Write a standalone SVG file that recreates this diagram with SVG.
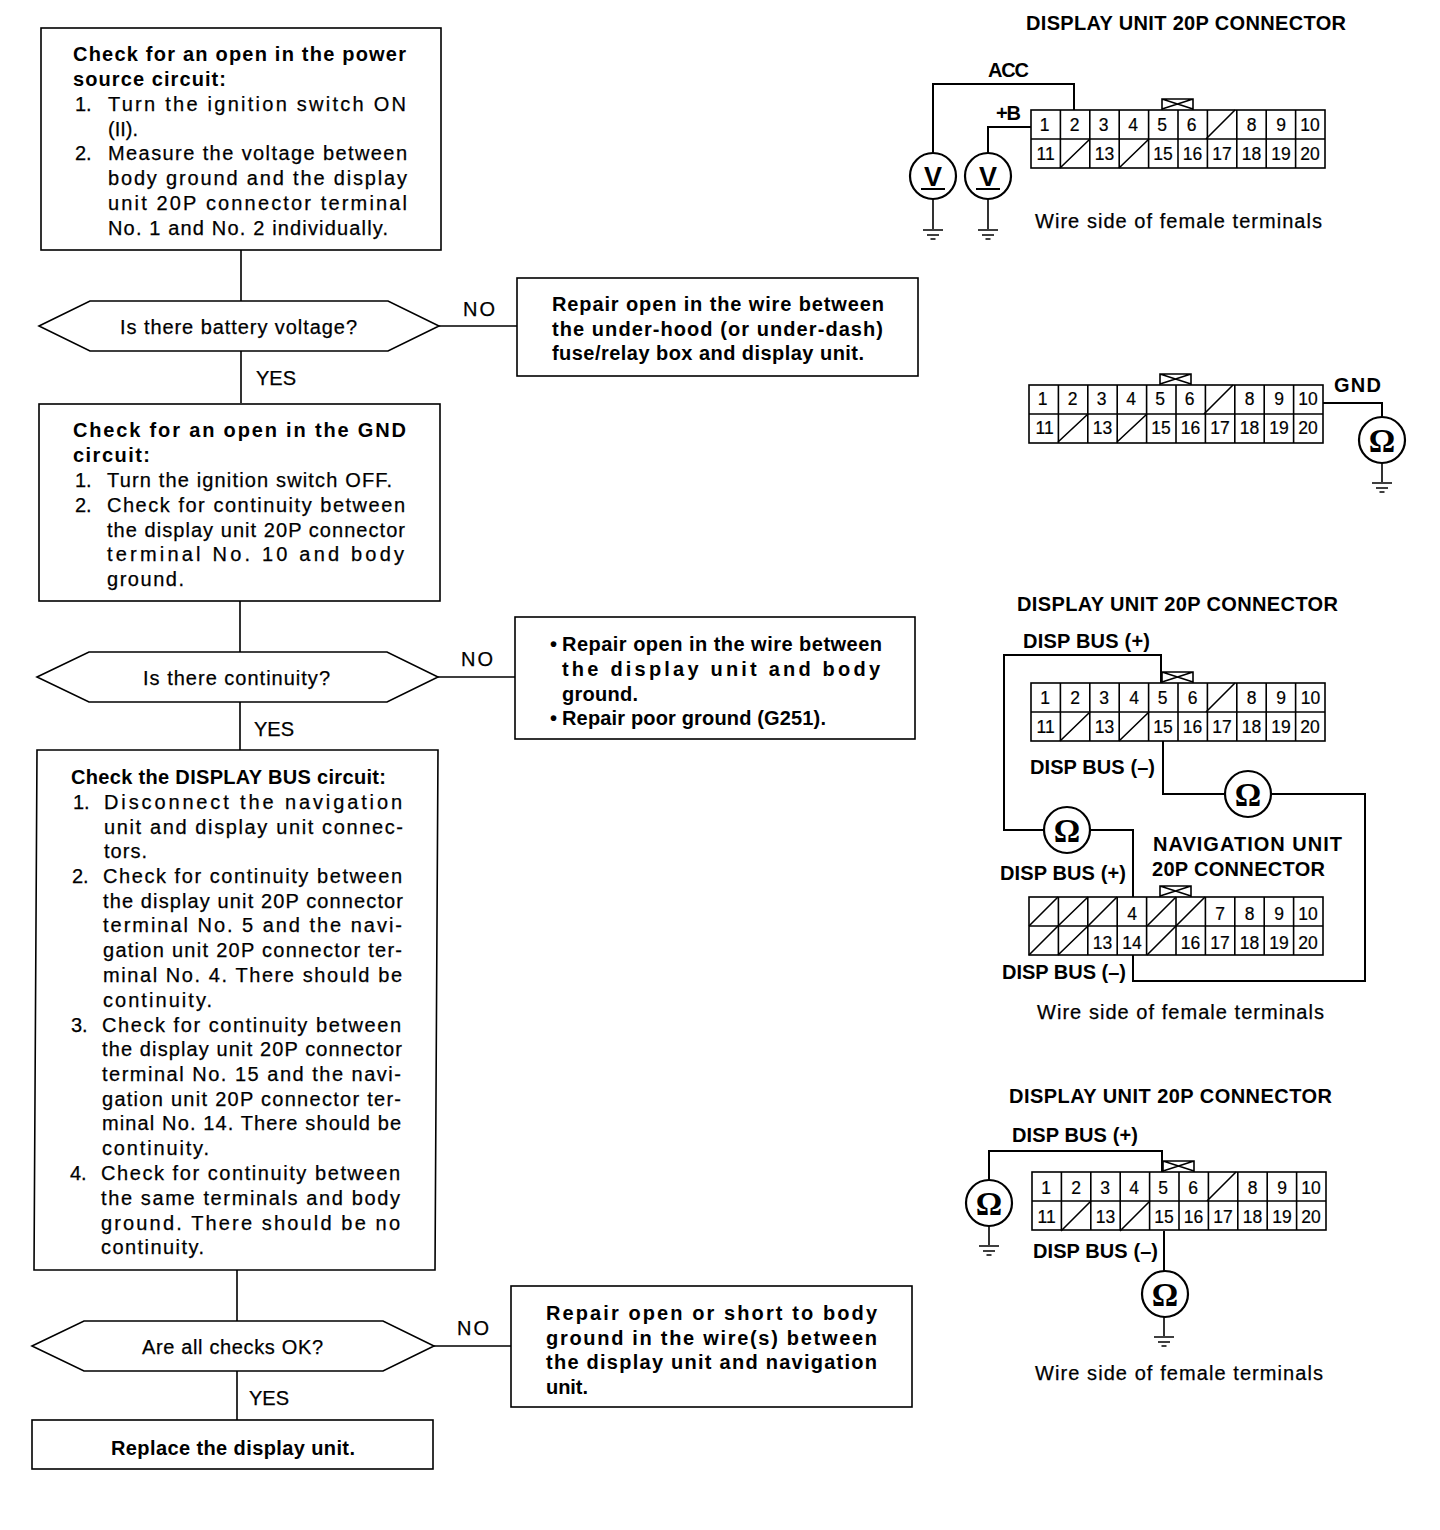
<svg xmlns="http://www.w3.org/2000/svg" xmlns:xlink="http://www.w3.org/1999/xlink" width="1440" height="1530" viewBox="0 0 1440 1530">
<style>
text{font-family:"Liberation Sans",Arial,sans-serif;fill:#000}
.t{font-size:20px;stroke:#000;stroke-width:.25px}
.b{font-size:20px;font-weight:700}
.h{font-size:20px;font-weight:700}
.n{font-size:17.5px;text-anchor:middle;stroke:#000;stroke-width:.2px}
.m{font-size:38px;font-weight:700;text-anchor:middle;font-family:"Liberation Serif",serif}
.box{fill:#fff;stroke:#000;stroke-width:1.6}
.ln{fill:none;stroke:#000;stroke-width:1.6}
.w{fill:none;stroke:#000;stroke-width:2}
.c{fill:#fff;stroke:#000;stroke-width:2.2}
</style>
<defs>
<g id="grid">
<rect class="ln" x="0" y="0" width="294" height="58" stroke-width="2"/>
<path class="ln" d="M29.4 0V58M58.8 0V58M88.2 0V58M117.6 0V58M147 0V58M176.4 0V58M205.8 0V58M235.2 0V58M264.6 0V58M0 29H294"/>
<path class="ln" d="M131 0V-11H162V0M131 -11L162 -1M162 -11L131 -1"/>
</g>
<g id="gnd"><path class="ln" d="M0 0V30M-10 31H10M-6 36H6M-2.500 40H2.500"/></g>
<g id="gnd2"><path class="ln" d="M0 0V19M-10 20H10M-6 25H6M-2.500 29H2.500"/></g>
</defs>

<g id="connectors">
<path class="ln" d="M241 250V301M241 351V403M439 326H517M240 601V652M240 702V750M438 677H515M237 1270V1321M237 1371V1420M434 1346H511"/>
<path class="w" d="M933 153V84H1074V110M988 153V127H1031M1323 403H1382V417"/>
<path class="w" d="M1161 683V655H1004V830H1044M1090 830H1133V897M1163 741V794H1225M1272 794H1365V981H1133V955"/>
<path class="w" d="M1162 1172V1151H989V1180M1164 1231V1272"/>
</g>

<g id="box1">
<rect class="box" x="41" y="28" width="400" height="222"/>
<text class="b" x="73" y="61" textLength="333">Check for an open in the power</text>
<text class="b" x="73" y="86" textLength="153">source circuit:</text>
<text class="t" x="75" y="111">1.</text>
<text class="t" x="108" y="111" textLength="298">Turn the ignition switch ON</text>
<text class="t" x="108" y="136">(II).</text>
<text class="t" x="75" y="160">2.</text>
<text class="t" x="108" y="160" textLength="299">Measure the voltage between</text>
<text class="t" x="108" y="185" textLength="299">body ground and the display</text>
<text class="t" x="108" y="210" textLength="299">unit 20P connector terminal</text>
<text class="t" x="108" y="235" textLength="280">No. 1 and No. 2 individually.</text>
</g>
<g id="dec1">
<polygon class="box" points="39,326 90,301 388,301 439,326 388,351 90,351"/>
<text class="t" x="120" y="334" textLength="237">Is there battery voltage?</text>
</g>
<text class="t" x="463" y="316" textLength="32">NO</text>
<text class="t" x="256" y="385">YES</text>
<g id="rep1">
<rect class="box" x="517" y="278" width="401" height="98"/>
<text class="b" x="552" y="311" textLength="332">Repair open in the wire between</text>
<text class="b" x="552" y="336" textLength="331">the under-hood (or under-dash)</text>
<text class="b" x="552" y="360" textLength="312">fuse/relay box and display unit.</text>
</g>
<g id="box2">
<rect class="box" x="39" y="404" width="401" height="197"/>
<text class="b" x="73" y="437" textLength="333">Check for an open in the GND</text>
<text class="b" x="73" y="462" textLength="77">circuit:</text>
<text class="t" x="75" y="487">1.</text>
<text class="t" x="107" y="487" textLength="285">Turn the ignition switch OFF.</text>
<text class="t" x="75" y="512">2.</text>
<text class="t" x="107" y="512" textLength="298">Check for continuity between</text>
<text class="t" x="107" y="537" textLength="298">the display unit 20P connector</text>
<text class="t" x="107" y="561" textLength="297">terminal No. 10 and body</text>
<text class="t" x="107" y="586" textLength="77">ground.</text>
</g>
<g id="dec2">
<polygon class="box" points="37,677 89,652 387,652 438,677 387,702 89,702"/>
<text class="t" x="143" y="685" textLength="187">Is there continuity?</text>
</g>
<text class="t" x="461" y="666" textLength="32">NO</text>
<text class="t" x="254" y="736">YES</text>
<g id="rep2">
<rect class="box" x="515" y="617" width="400" height="122"/>
<text class="b" x="550" y="651">•</text>
<text class="b" x="562" y="651" textLength="320">Repair open in the wire between</text>
<text class="b" x="562" y="676" textLength="318">the display unit and body</text>
<text class="b" x="562" y="701" textLength="76">ground.</text>
<text class="b" x="550" y="725">•</text>
<text class="b" x="562" y="725" textLength="264">Repair poor ground (G251).</text>
</g>
<g id="box3">
<polygon class="box" points="37,750 438,750 435,1270 34,1270"/>
<text class="b" x="71" y="784" textLength="315">Check the DISPLAY BUS circuit:</text>
<text class="t" x="73" y="809">1.</text>
<text class="t" x="104" y="809" textLength="298">Disconnect the navigation</text>
<text class="t" x="104" y="834" textLength="299">unit and display unit connec-</text>
<text class="t" x="104" y="858" textLength="43">tors.</text>
<text class="t" x="72" y="883">2.</text>
<text class="t" x="103" y="883" textLength="299">Check for continuity between</text>
<text class="t" x="103" y="908" textLength="300">the display unit 20P connector</text>
<text class="t" x="103" y="932" textLength="299">terminal No. 5 and the navi-</text>
<text class="t" x="103" y="957" textLength="299">gation unit 20P connector ter-</text>
<text class="t" x="103" y="982" textLength="299">minal No. 4. There should be</text>
<text class="t" x="103" y="1007" textLength="109">continuity.</text>
<text class="t" x="71" y="1032">3.</text>
<text class="t" x="102" y="1032" textLength="299">Check for continuity between</text>
<text class="t" x="102" y="1056" textLength="300">the display unit 20P connector</text>
<text class="t" x="102" y="1081" textLength="299">terminal No. 15 and the navi-</text>
<text class="t" x="102" y="1106" textLength="299">gation unit 20P connector ter-</text>
<text class="t" x="102" y="1130" textLength="299">minal No. 14. There should be</text>
<text class="t" x="102" y="1155" textLength="107">continuity.</text>
<text class="t" x="70" y="1180">4.</text>
<text class="t" x="101" y="1180" textLength="299">Check for continuity between</text>
<text class="t" x="101" y="1205" textLength="299">the same terminals and body</text>
<text class="t" x="101" y="1230" textLength="299">ground. There should be no</text>
<text class="t" x="101" y="1254" textLength="103">continuity.</text>
</g>
<g id="dec3">
<polygon class="box" points="32,1346 84,1321 383,1321 434,1346 383,1371 84,1371"/>
<text class="t" x="142" y="1354" textLength="181">Are all checks OK?</text>
</g>
<text class="t" x="457" y="1335" textLength="32">NO</text>
<text class="t" x="249" y="1405">YES</text>
<g id="rep3">
<rect class="box" x="511" y="1286" width="401" height="121"/>
<text class="b" x="546" y="1320" textLength="331">Repair open or short to body</text>
<text class="b" x="546" y="1345" textLength="331">ground in the wire(s) between</text>
<text class="b" x="546" y="1369" textLength="331">the display unit and navigation</text>
<text class="b" x="546" y="1394" textLength="42">unit.</text>
</g>
<g id="end">
<rect class="box" x="32" y="1420" width="401" height="49"/>
<text class="b" x="111" y="1455" textLength="244">Replace the display unit.</text>
</g>

<g id="conn1">
<text class="h" x="1026" y="30" textLength="320">DISPLAY UNIT 20P CONNECTOR</text>
<text class="h" x="988" y="77" textLength="41">ACC</text>
<text class="h" x="996" y="120" textLength="25">+B</text>
<use href="#grid" xlink:href="#grid" x="1031" y="110"/>
<path class="ln" d="M1206 139L1235 110M1060 168L1090 139M1119 168L1149 139"/>
<g transform="translate(1031,110)">
<text class="n" x="13.500" y="21">1</text><text class="n" x="43.500" y="21">2</text><text class="n" x="72.500" y="21">3</text><text class="n" x="102" y="21">4</text><text class="n" x="131" y="21">5</text><text class="n" x="160.500" y="21">6</text><text class="n" x="220.500" y="21">8</text><text class="n" x="250" y="21">9</text><text class="n" x="279" y="21">10</text>
<text class="n" x="14.700" y="50">11</text><text class="n" x="73.500" y="50">13</text><text class="n" x="132" y="50">15</text><text class="n" x="161.500" y="50">16</text><text class="n" x="191" y="50">17</text><text class="n" x="220.500" y="50">18</text><text class="n" x="250" y="50">19</text><text class="n" x="279" y="50">20</text>
</g>
<text class="t" x="1035" y="228" textLength="287">Wire side of female terminals</text>
</g>
<g id="v1">
<circle class="c" cx="933" cy="176" r="23"/>
<text class="h" x="933" y="186" text-anchor="middle" style="font-size:27px">V</text>
<path class="w" d="M921 189H945"/>
<use href="#gnd" xlink:href="#gnd" x="933" y="199"/>
</g>
<g id="v2">
<circle class="c" cx="988" cy="176" r="23"/>
<text class="h" x="988" y="186" text-anchor="middle" style="font-size:27px">V</text>
<path class="w" d="M976 189H1000"/>
<use href="#gnd" xlink:href="#gnd" x="988" y="199"/>
</g>

<g id="conn2">
<use href="#grid" xlink:href="#grid" x="1029" y="385"/>
<path class="ln" d="M1204 414L1233 385M1058 442L1088 414M1117 442L1147 414"/>
<g transform="translate(1029,385)">
<text class="n" x="13.500" y="20">1</text><text class="n" x="43.500" y="20">2</text><text class="n" x="72.500" y="20">3</text><text class="n" x="102" y="20">4</text><text class="n" x="131" y="20">5</text><text class="n" x="160.500" y="20">6</text><text class="n" x="220.500" y="20">8</text><text class="n" x="250" y="20">9</text><text class="n" x="279" y="20">10</text>
<text class="n" x="15.700" y="49">11</text><text class="n" x="73.500" y="49">13</text><text class="n" x="132" y="49">15</text><text class="n" x="161.500" y="49">16</text><text class="n" x="191" y="49">17</text><text class="n" x="220.500" y="49">18</text><text class="n" x="250" y="49">19</text><text class="n" x="279" y="49">20</text>
</g>
<text class="h" x="1334" y="392" textLength="47">GND</text>
</g>
<g id="ohm1">
<circle class="c" cx="1382" cy="440" r="23"/>
<text class="m" x="1382" y="452" style="font-size:33px">Ω</text>
<use href="#gnd2" xlink:href="#gnd2" x="1382" y="463"/>
</g>

<g id="conn3">
<text class="h" x="1017" y="611" textLength="321">DISPLAY UNIT 20P CONNECTOR</text>
<text class="h" x="1023" y="648" textLength="127">DISP BUS (+)</text>
<use href="#grid" xlink:href="#grid" x="1031" y="683"/>
<path class="ln" d="M1206 712L1235 683M1060 741L1090 712M1119 741L1149 712"/>
<g transform="translate(1031,683)">
<text class="n" x="14" y="21">1</text><text class="n" x="44" y="21">2</text><text class="n" x="73" y="21">3</text><text class="n" x="103" y="21">4</text><text class="n" x="131.500" y="21">5</text><text class="n" x="161.500" y="21">6</text><text class="n" x="220.500" y="21">8</text><text class="n" x="250" y="21">9</text><text class="n" x="279.500" y="21">10</text>
<text class="n" x="14.700" y="50">11</text><text class="n" x="73.500" y="50">13</text><text class="n" x="132" y="50">15</text><text class="n" x="161.500" y="50">16</text><text class="n" x="191" y="50">17</text><text class="n" x="220.500" y="50">18</text><text class="n" x="250" y="50">19</text><text class="n" x="279" y="50">20</text>
</g>
<text class="h" x="1030" y="774" textLength="125">DISP BUS (–)</text>
</g>
<g id="ohm2">
<circle class="c" cx="1067" cy="830" r="23"/>
<text class="m" x="1067" y="842" style="font-size:33px">Ω</text>
</g>
<g id="ohm3">
<circle class="c" cx="1248" cy="794" r="23"/>
<text class="m" x="1248" y="806" style="font-size:33px">Ω</text>
</g>
<g id="conn4">
<text class="h" x="1153" y="851" textLength="189">NAVIGATION UNIT</text>
<text class="h" x="1152" y="876" textLength="173">20P CONNECTOR</text>
<text class="h" x="1000" y="880" textLength="126">DISP BUS (+)</text>
<use href="#grid" xlink:href="#grid" x="1029" y="897"/>
<path class="ln" d="M1029 926L1058 897M1058 926L1088 897M1088 926L1117 897M1147 926L1176 897M1176 926L1205 897M1029 955L1058 926M1058 955L1088 926M1147 955L1176 926"/>
<g transform="translate(1029,897)">
<text class="n" x="103" y="22.500">4</text><text class="n" x="191" y="22.500">7</text><text class="n" x="220.500" y="22.500">8</text><text class="n" x="250" y="22.500">9</text><text class="n" x="279" y="22.500">10</text>
<text class="n" x="73.500" y="51.500">13</text><text class="n" x="103" y="51.500">14</text><text class="n" x="161.500" y="51.500">16</text><text class="n" x="191" y="51.500">17</text><text class="n" x="220.500" y="51.500">18</text><text class="n" x="250" y="51.500">19</text><text class="n" x="279" y="51.500">20</text>
</g>
<text class="h" x="1002" y="979" textLength="124">DISP BUS (–)</text>
<text class="t" x="1037" y="1019" textLength="287">Wire side of female terminals</text>
</g>

<g id="conn5">
<text class="h" x="1009" y="1103" textLength="323">DISPLAY UNIT 20P CONNECTOR</text>
<text class="h" x="1012" y="1142" textLength="126">DISP BUS (+)</text>
<use href="#grid" xlink:href="#grid" x="1032" y="1172"/>
<path class="ln" d="M1207 1201L1236 1172M1061 1231L1091 1201M1120 1231L1150 1201"/>
<g transform="translate(1032,1172)">
<text class="n" x="14" y="22">1</text><text class="n" x="44" y="22">2</text><text class="n" x="73" y="22">3</text><text class="n" x="102" y="22">4</text><text class="n" x="131" y="22">5</text><text class="n" x="161" y="22">6</text><text class="n" x="220.500" y="22">8</text><text class="n" x="250" y="22">9</text><text class="n" x="279" y="22">10</text>
<text class="n" x="14.700" y="51">11</text><text class="n" x="73.500" y="51">13</text><text class="n" x="132" y="51">15</text><text class="n" x="161.500" y="51">16</text><text class="n" x="191" y="51">17</text><text class="n" x="220.500" y="51">18</text><text class="n" x="250" y="51">19</text><text class="n" x="279" y="51">20</text>
</g>
<text class="h" x="1033" y="1258" textLength="125">DISP BUS (–)</text>
<text class="t" x="1035" y="1380" textLength="288">Wire side of female terminals</text>
</g>
<g id="ohm4">
<circle class="c" cx="989" cy="1203" r="23"/>
<text class="m" x="989" y="1215" style="font-size:33px">Ω</text>
<use href="#gnd2" xlink:href="#gnd2" x="989" y="1226"/>
</g>
<g id="ohm5">
<circle class="c" cx="1165" cy="1294" r="23"/>
<text class="m" x="1165" y="1306" style="font-size:33px">Ω</text>
<use href="#gnd2" xlink:href="#gnd2" x="1164" y="1317"/>
</g>
</svg>
